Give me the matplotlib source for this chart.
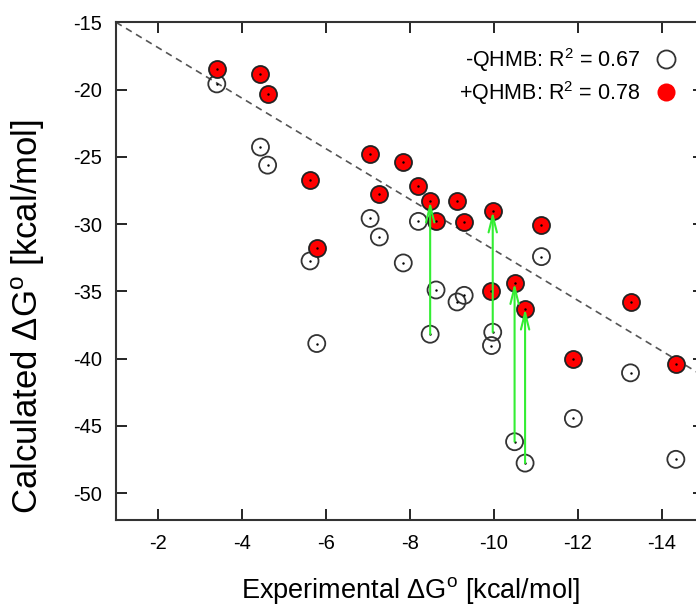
import matplotlib
matplotlib.use('Agg')
import matplotlib.pyplot as plt
from matplotlib.lines import Line2D
import numpy as np

plt.rcParams['font.family'] = ['Liberation Sans', 'DejaVu Sans']
plt.rcParams['mathtext.fontset'] = 'custom'
plt.rcParams['mathtext.rm'] = 'Liberation Sans'
plt.rcParams['mathtext.it'] = 'Liberation Sans:italic'
plt.rcParams['axes.unicode_minus'] = False

# experimental dG for each complex, same order in both series
dg_exp = [-3.40, -4.44, -4.61, -5.62, -5.78, -7.05, -7.27, -7.84, -8.20, -8.48, -8.62,
          -9.12, -9.29, -9.94, -9.97, -10.49, -10.74, -11.13, -11.89, -13.25, -14.33]
# calculated dG without QHMB
dg_noqhmb = [-19.58, -24.28, -25.62, -32.74, -38.88, -29.58, -30.96, -32.89, -29.80, -38.19, -34.90,
             -35.79, -35.30, -39.03, -38.04, -46.18, -47.77, -32.42, -44.45, -41.06, -47.49]
# calculated dG with QHMB
dg_qhmb = [-18.49, -18.86, -20.35, -26.73, -31.81, -24.78, -27.77, -25.39, -27.20, -28.32, -29.75,
           -28.27, -29.85, -34.95, -29.06, -34.38, -36.28, -30.05, -40.00, -35.79, -40.37]
# complexes with the biggest shift get an arrow
arrow_idx = [9, 14, 15, 16]

fit_slope = 1.88
fit_intercept = -13.12

r2_labels = ['-QHMB: R$^2$ = 0.67', '+QHMB: R$^2$ = 0.78']

fig = plt.figure(figsize=(6.96, 6.08), dpi=100)
ax = fig.add_axes([116/696, 88/608, (704-116)/696, (520-22.3)/608])

xl = np.array([-1, -15])
ax.plot(xl, fit_slope*xl + fit_intercept, color='#555555', lw=1.2, ls=(0, (4, 3)), zorder=1)

ax.scatter(dg_exp, dg_noqhmb, s=150, facecolors='none', edgecolors='#333333', linewidths=1.3, zorder=2)
ax.scatter(dg_exp, dg_qhmb, s=150, facecolors='#ff0000', edgecolors='#222222', linewidths=1.3, zorder=3)
ax.plot(dg_exp, dg_noqhmb, '.', ms=1.5, color='k', zorder=4)
ax.plot(dg_exp, dg_qhmb, '.', ms=1.5, color='k', zorder=4)

for i in arrow_idx:
    ax.annotate('', xy=(dg_exp[i], dg_qhmb[i]), xytext=(dg_exp[i], dg_noqhmb[i]),
                arrowprops=dict(arrowstyle='->, head_length=0.6, head_width=0.15', color='#33ee33',
                                lw=1.5, shrinkA=0, shrinkB=0, mutation_scale=20), zorder=5)

ax.set_xlim(-1, -15)
ax.set_ylim(-52, -15)
ax.set_xticks(np.arange(-2, -15, -2))
ax.set_yticks(np.arange(-50, -14, 5))
ax.tick_params(direction='in', top=True, right=True, length=8, width=1.2, labelsize=14.5, pad=10)
for s in ax.spines.values():
    s.set_linewidth(1.5)
    s.set_color('#333333')

ax.set_xlabel(r'Experimental $\Delta$G$^{\mathrm{o}}$ [kcal/mol]', fontsize=19.5)
ax.set_ylabel(r'Calculated $\Delta$G$^{\mathrm{o}}$ [kcal/mol]', fontsize=25)
ax.xaxis.set_label_coords(0.5, -0.111)
ax.yaxis.set_label_coords(-0.117, 0.409)

handles = [Line2D([], [], ls='none', marker='o', ms=13, mfc='none', mec='#333333', mew=1.3),
           Line2D([], [], ls='none', marker='o', ms=13, mfc='#ff0000', mec='#ff0000', mew=0)]
ax.legend(handles, r2_labels, loc='upper right', bbox_to_anchor=(690/696, 1 - 35/608),
          bbox_transform=fig.transFigure, frameon=False, markerfirst=False, fontsize=15.5,
          labelspacing=0.25, handletextpad=0.6, handlelength=1.2, borderpad=0)

plt.savefig('out.png', dpi=100)
